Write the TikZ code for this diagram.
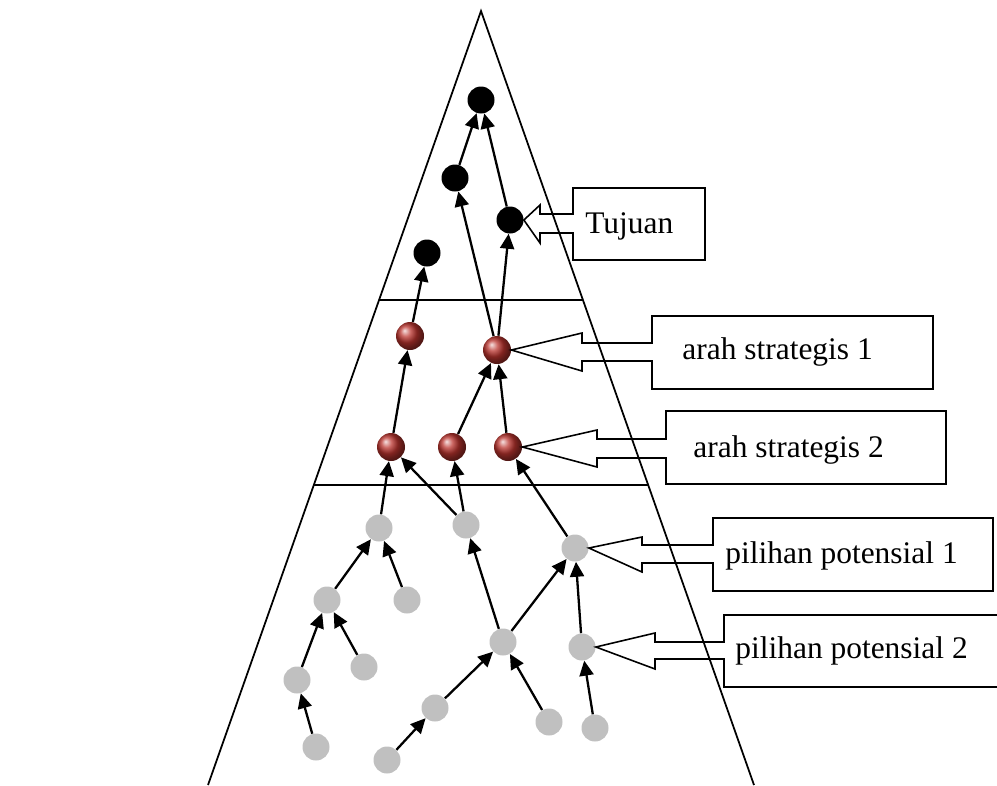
\documentclass[tikz,border=0pt]{standalone}
\usepackage{fontspec}
\setmainfont{Liberation Serif}
\usetikzlibrary{arrows.meta,calc}
\definecolor{ballred}{RGB}{186, 52, 46}
\definecolor{optiongray}{RGB}{192, 192, 192}

\begin{document}
\begin{tikzpicture}[
    x=0.02cm, y=-0.02cm,
    goal/.style={circle, fill=black, minimum size=0.54cm, inner sep=0pt},
    strategy/.style={circle, ball color=ballred, minimum size=0.56cm, inner sep=0pt},
    potential/.style={circle, fill=optiongray, minimum size=0.54cm, inner sep=0pt},
    arrow/.style={line width=1.3pt, -{Triangle[length=8.5pt, width=8pt]}},
    callout/.style={line width=0.9pt, line join=miter},
    calltext/.style={font=\fontsize{17.9}{20}\selectfont, inner sep=0pt, anchor=base west}
]
\useasboundingbox (0,0) rectangle (997,785);

% Pyramid and levels
\coordinate (apex) at (481,11);
\draw[line width=1pt] (208,785) -- (apex) -- (754,785);
\draw[line width=1.2pt] (379,300) -- (583,300);
\draw[line width=1.2pt] (314,485) -- (648,485);

% Goals
\node[goal] (goal_1) at (481,100) {};
\node[goal] (goal_2) at (455,178) {};
\node[goal] (goal_3) at (510,220) {};
\node[goal] (goal_4) at (427,253) {};

% Strategic directions
\node[strategy] (strat_1) at (410,336) {};
\node[strategy] (strat_2) at (497,350) {};
\node[strategy] (strat_3) at (391,447) {};
\node[strategy] (strat_4) at (452,447) {};
\node[strategy] (strat_5) at (508,447) {};

% Potential options
\node[potential] (opt_1) at (379,528) {};
\node[potential] (opt_2) at (466,525) {};
\node[potential] (opt_3) at (327,600) {};
\node[potential] (opt_4) at (407,600) {};
\node[potential] (opt_5) at (297,680) {};
\node[potential] (opt_6) at (364,667) {};
\node[potential] (opt_7) at (316,747) {};
\node[potential] (opt_8) at (387,760) {};
\node[potential] (opt_9) at (435,708) {};
\node[potential] (opt_10) at (503,642) {};
\node[potential] (opt_11) at (575,548) {};
\node[potential] (opt_12) at (582,647) {};
\node[potential] (opt_13) at (549,722) {};
\node[potential] (opt_14) at (595,728) {};

% Upward flow
\draw[arrow] (goal_2) -- (goal_1);
\draw[arrow] (goal_3) -- (goal_1);
\draw[arrow] (strat_2) -- (goal_2);
\draw[arrow] (strat_2) -- (goal_3);
\draw[arrow] (strat_1) -- (goal_4);
\draw[arrow] (strat_3) -- (strat_1);
\draw[arrow] (strat_4) -- (strat_2);
\draw[arrow] (strat_5) -- (strat_2);
\draw[arrow] (opt_1) -- (strat_3);
\draw[arrow] (opt_2) -- (strat_3);
\draw[arrow] (opt_2) -- (strat_4);
\draw[arrow] (opt_11) -- (strat_5);
\draw[arrow] (opt_3) -- (opt_1);
\draw[arrow] (opt_4) -- (opt_1);
\draw[arrow] (opt_5) -- (opt_3);
\draw[arrow] (opt_6) -- (opt_3);
\draw[arrow] (opt_7) -- (opt_5);
\draw[arrow] (opt_8) -- (opt_9);
\draw[arrow] (opt_9) -- (opt_10);
\draw[arrow] (opt_10) -- (opt_2);
\draw[arrow] (opt_10) -- (opt_11);
\draw[arrow] (opt_12) -- (opt_11);
\draw[arrow] (opt_13) -- (opt_10);
\draw[arrow] (opt_14) -- (opt_12);

% Callouts
\draw[callout] (goal_3.east) -- (540,205) -- (540,214) -- (573,214) -- (573,188) -- (705,188)
    -- (705,260) -- (573,260) -- (573,233) -- (540,233) -- (540,243) -- cycle;
\draw[callout] (strat_2.east) -- (582,333) -- (582,343) -- (652,343) -- (652,316) -- (933,316)
    -- (933,389) -- (652,389) -- (652,361) -- (582,361) -- (582,371) -- cycle;
\draw[callout] (strat_5.east) -- (597,430) -- (597,439) -- (666,439) -- (666,411) -- (946,411)
    -- (946,484) -- (666,484) -- (666,458) -- (597,458) -- (597,467) -- cycle;
\draw[callout] (opt_11.east) -- (642,537) -- (642,545) -- (713,545) -- (713,518) -- (993,518)
    -- (993,591) -- (713,591) -- (713,563) -- (642,563) -- (642,572) -- cycle;
\draw[callout] (opt_12.east) -- (655,633) -- (655,642) -- (724,642) -- (724,615) -- (1010,615)
    -- (1010,687) -- (724,687) -- (724,659) -- (655,659) -- (655,669) -- cycle;

% Callout texts
\node[calltext] (txt_goal) at (585,233) {Tujuan};
\node[calltext] (txt_strat_1) at (682,359) {arah strategis 1};
\node[calltext] (txt_strat_2) at (693,457) {arah strategis 2};
\node[calltext] (txt_opt_1) at (725,563) {pilihan potensial 1};
\node[calltext] (txt_opt_2) at (735,658) {pilihan potensial 2};

\end{tikzpicture}
\end{document}
